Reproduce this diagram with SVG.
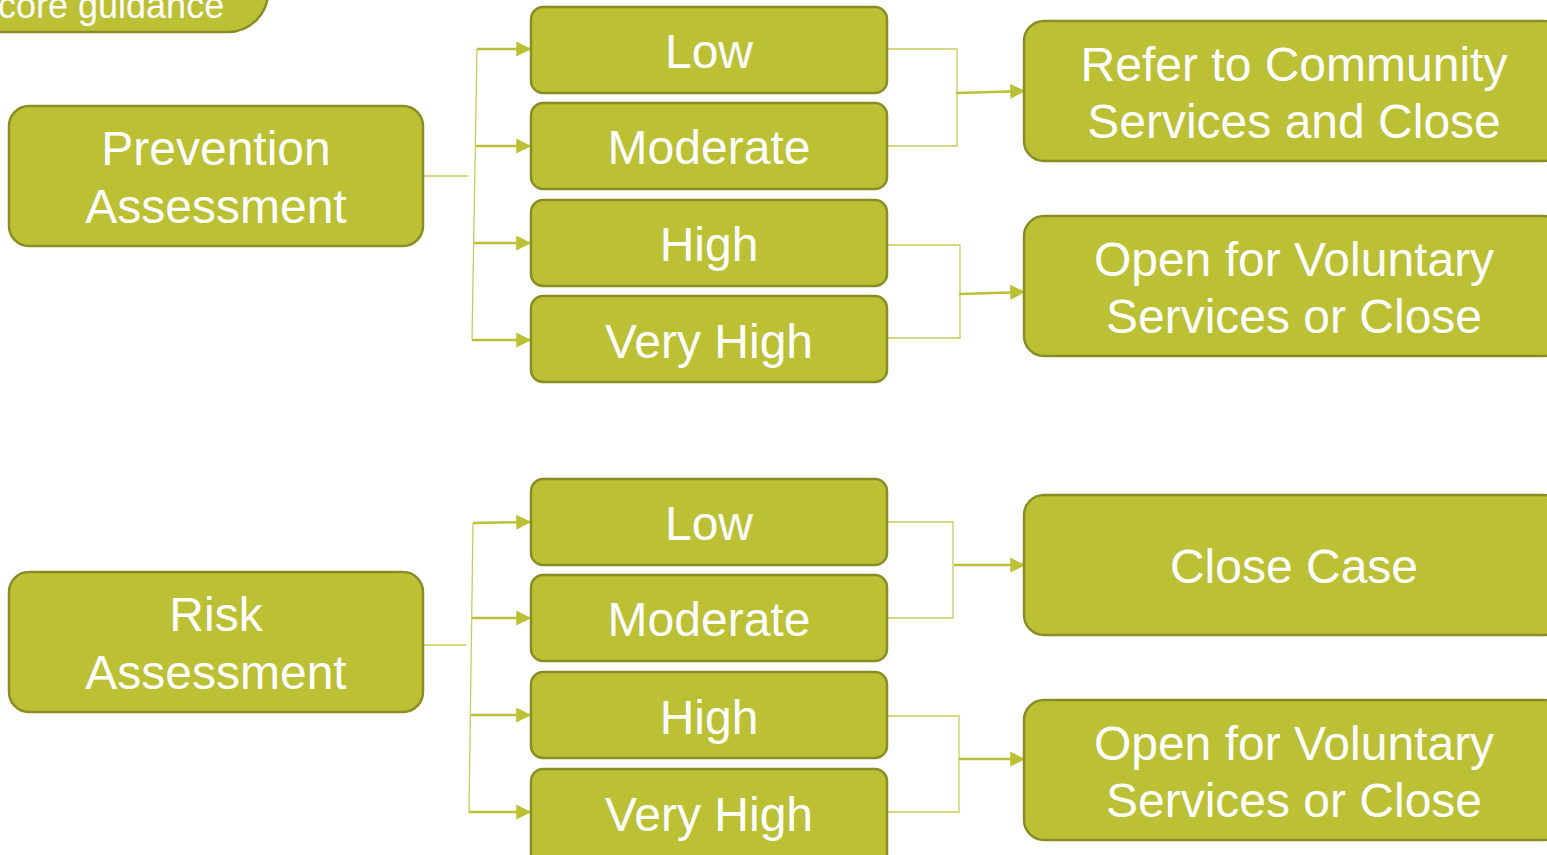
<svg xmlns="http://www.w3.org/2000/svg" width="1547" height="855" viewBox="0 0 1547 855">
<defs>
<style>
.box{fill:#BBC035;stroke:#8A8D23;stroke-width:2.5}
.t{font-family:"Liberation Sans",Arial,sans-serif;font-size:48px;fill:#FFFFFF;text-anchor:middle}
.thin{stroke:#C9CD5A;stroke-width:1.3;fill:none}
.arr{stroke:#BBC035;stroke-width:2.5;fill:none;marker-end:url(#ah)}
</style>
<marker id="ah" markerWidth="6" markerHeight="6" refX="5.5" refY="3" orient="auto" markerUnits="strokeWidth">
<path d="M0,0 L6,3 L0,6 Z" fill="#BBC035"/>
</marker>
</defs>
<rect width="1547" height="855" fill="#FFFFFF"/>

<g id="connectors">
<line class="thin" x1="423" y1="176" x2="468" y2="176"/>
<line class="thin" x1="477" y1="49" x2="472" y2="340"/>
<line class="arr" x1="477" y1="49" x2="530" y2="49"/>
<line class="arr" x1="476" y1="146" x2="530" y2="146"/>
<line class="arr" x1="474" y1="243" x2="530" y2="243"/>
<line class="arr" x1="472" y1="340" x2="530" y2="340"/>
<polyline class="thin" points="887,49 957,49 957,146 887,146"/>
<line class="arr" x1="956" y1="93" x2="1024" y2="91"/>
<polyline class="thin" points="887,245 960,245 960,338 887,338"/>
<line class="arr" x1="959" y1="294" x2="1024" y2="292"/>
<line class="thin" x1="423" y1="645" x2="466" y2="645"/>
<line class="thin" x1="473" y1="523" x2="469" y2="813"/>
<line class="arr" x1="473" y1="523" x2="530" y2="522"/>
<line class="arr" x1="472" y1="618" x2="530" y2="618"/>
<line class="arr" x1="471" y1="715" x2="530" y2="715"/>
<line class="arr" x1="469" y1="812" x2="530" y2="812"/>
<polyline class="thin" points="887,522 953,522 953,618 887,618"/>
<line class="arr" x1="954" y1="565" x2="1024" y2="565"/>
<polyline class="thin" points="887,716 959,716 959,812 887,812"/>
<line class="arr" x1="959" y1="759" x2="1024" y2="759"/>
</g>

<g id="score-guidance">
<rect class="box" x="-60" y="-50" width="328" height="82" rx="40"/>
<text class="t" x="-2" y="18" style="font-size:36px;text-anchor:start">core guidance</text>
</g>

<g id="prevention">
<rect class="box" x="9" y="106" width="414" height="140" rx="20"/>
<text class="t" x="216" y="165">Prevention</text>
<text class="t" x="216" y="223">Assessment</text>
</g>
<g id="risk">
<rect class="box" x="9" y="572" width="414" height="140" rx="20"/>
<text class="t" x="216" y="631">Risk</text>
<text class="t" x="216" y="689">Assessment</text>
</g>

<g id="p-low"><rect class="box" x="531" y="7" width="356" height="86" rx="12"/><text class="t" x="709" y="68">Low</text></g>
<g id="p-moderate"><rect class="box" x="531" y="103" width="356" height="86" rx="12"/><text class="t" x="709" y="164">Moderate</text></g>
<g id="p-high"><rect class="box" x="531" y="200" width="356" height="86" rx="12"/><text class="t" x="709" y="261">High</text></g>
<g id="p-veryhigh"><rect class="box" x="531" y="296" width="356" height="86" rx="12"/><text class="t" x="709" y="358">Very High</text></g>

<g id="r-low"><rect class="box" x="531" y="479" width="356" height="86" rx="12"/><text class="t" x="709" y="540">Low</text></g>
<g id="r-moderate"><rect class="box" x="531" y="575" width="356" height="86" rx="12"/><text class="t" x="709" y="636">Moderate</text></g>
<g id="r-high"><rect class="box" x="531" y="672" width="356" height="86" rx="12"/><text class="t" x="709" y="734">High</text></g>
<g id="r-veryhigh"><rect class="box" x="531" y="769" width="356" height="100" rx="12"/><text class="t" x="709" y="831">Very High</text></g>

<g id="refer-community">
<rect class="box" x="1024" y="21" width="540" height="140" rx="20"/>
<text class="t" x="1294" y="81">Refer to Community</text>
<text class="t" x="1294" y="138">Services and Close</text>
</g>
<g id="open-voluntary-1">
<rect class="box" x="1024" y="216" width="540" height="140" rx="20"/>
<text class="t" x="1294" y="276">Open for Voluntary</text>
<text class="t" x="1294" y="333">Services or Close</text>
</g>
<g id="close-case">
<rect class="box" x="1024" y="495" width="540" height="140" rx="20"/>
<text class="t" x="1294" y="583">Close Case</text>
</g>
<g id="open-voluntary-2">
<rect class="box" x="1024" y="700" width="540" height="140" rx="20"/>
<text class="t" x="1294" y="760">Open for Voluntary</text>
<text class="t" x="1294" y="817">Services or Close</text>
</g>
</svg>
